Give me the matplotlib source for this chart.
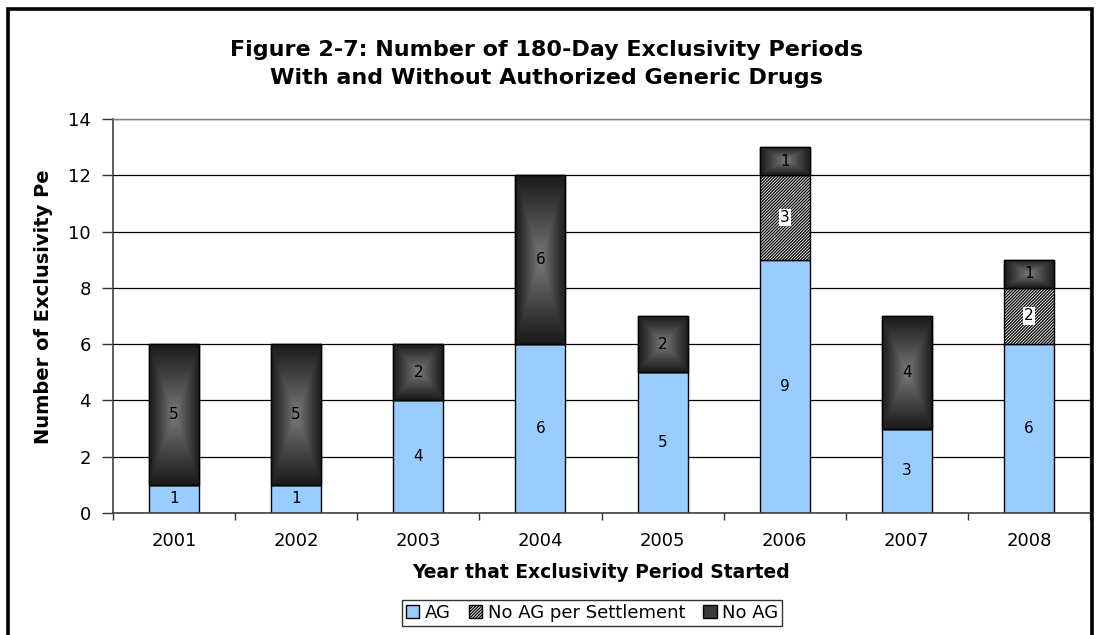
"""Stacked bars: 180-day exclusivity periods with and without authorized generics."""

import numpy as np
import matplotlib

matplotlib.use("Agg")
import matplotlib.pyplot as plt
from matplotlib.patches import Rectangle

years = ["2001", "2002", "2003", "2004", "2005", "2006", "2007", "2008"]
ag = [1, 1, 4, 6, 5, 9, 3, 6]
no_ag_settlement = [0, 0, 0, 0, 0, 3, 0, 2]
no_ag = [5, 5, 2, 6, 2, 1, 4, 1]

title = ("Figure 2-7: Number of 180-Day Exclusivity Periods\n"
         "With and Without Authorized Generic Drugs")
xlabel = "Year that Exclusivity Period Started"
ylabel = "Number of Exclusivity Pe"
legend_labels = ["AG", "No AG per Settlement", "No AG"]

plt.rcParams["font.family"] = ["DejaVu Sans"]
plt.rcParams["hatch.color"] = "#4a4a4a"
plt.rcParams["hatch.linewidth"] = 0.8

W, H = 1096, 635
fig = plt.figure(figsize=(W / 100, H / 100), dpi=100)
ax = fig.add_axes([113 / W, 1 - 513 / H, (1090 - 113) / W, (513 - 119) / H])

x = np.arange(len(years))
width = 0.41
ag_arr = np.array(ag, dtype=float)
set_arr = np.array(no_ag_settlement, dtype=float)
noag_arr = np.array(no_ag, dtype=float)

# gridlines behind the bars
ax.set_axisbelow(True)
ax.yaxis.grid(True, color="#000000", linewidth=0.9)

b_ag = ax.bar(x, ag_arr, width, color="#99ccff", edgecolor="#000000",
              linewidth=1.0, zorder=2, label=legend_labels[0])
b_set = ax.bar(x, set_arr, width, bottom=ag_arr, color="#d8d8d8",
               edgecolor="#000000", linewidth=1.0, hatch="/" * 11,
               zorder=2, label=legend_labels[1])
bottom2 = ag_arr + set_arr
b_no = ax.bar(x, noag_arr, width, bottom=bottom2, color="#3a3a3a",
              edgecolor="#000000", linewidth=1.0, zorder=2,
              label=legend_labels[2])

# "from centre" gradient fill for the No AG segments
n = 120
u = np.linspace(-1, 1, n)
uu, vv = np.meshgrid(u, u)
t = np.maximum(np.abs(uu), np.abs(vv))
shade = 0.11 + (0.48 - 0.11) * (1 - t) ** 1.1
grad = np.dstack([shade, shade, shade])
for patch in b_no.patches:
    x0, y0 = patch.get_x(), patch.get_y()
    x1, y1 = x0 + patch.get_width(), y0 + patch.get_height()
    im = ax.imshow(grad, extent=(x0, x1, y0, y1), aspect="auto",
                   interpolation="bilinear", zorder=2.1)
    im.set_clip_path(patch)
ax.bar(x, noag_arr, width, bottom=bottom2, fill=False, edgecolor="#000000",
       linewidth=1.0, zorder=2.2)

# value labels
for i in range(len(years)):
    ax.text(x[i], ag_arr[i] / 2, f"{ag[i]}", ha="center", va="center",
            fontsize=11, zorder=3)
    if set_arr[i] > 0:
        ax.text(x[i], ag_arr[i] + set_arr[i] / 2, f"{no_ag_settlement[i]}",
                ha="center", va="center", fontsize=11, zorder=3,
                bbox=dict(facecolor="white", edgecolor="none", pad=0.8))
    if noag_arr[i] > 0:
        ax.text(x[i], bottom2[i] + noag_arr[i] / 2, f"{no_ag[i]}",
                ha="center", va="center", fontsize=11, zorder=3)

ax.set_xlim(-0.5, len(years) - 0.5)
ax.set_ylim(0, 14)
ax.set_yticks(np.arange(0, 15, 2))
ax.tick_params(axis="y", direction="out", length=8, width=1.0,
               color="#333333", labelsize=13, pad=8)
ax.set_xticks(x)
ax.set_xticklabels(years)
ax.set_xticks(np.arange(-0.5, len(years), 1), minor=True)
ax.tick_params(axis="x", which="major", length=0, labelsize=13, pad=14)
ax.tick_params(axis="x", which="minor", direction="out", length=5,
               width=1.0, color="#333333")

for side in ("top", "right"):
    ax.spines[side].set_color("#808080")
    ax.spines[side].set_linewidth(1.0)
ax.spines["left"].set_color("#404040")
ax.spines["bottom"].set_color("#404040")
ax.spines["left"].set_linewidth(1.2)
ax.spines["bottom"].set_linewidth(1.2)

fig.text(546 / W, 1 - 64 / H, title, ha="center", va="center",
         fontsize=16, fontweight="bold", linespacing=1.5)
fig.text(601 / W, 1 - 572 / H, xlabel, ha="center", va="center",
         fontsize=13.5, fontweight="bold")
fig.text(44 / W, 1 - 307 / H, ylabel, ha="center", va="center",
         rotation=90, fontsize=14, fontweight="bold")

leg = fig.legend(handles=[b_ag, b_set, b_no], labels=legend_labels,
                 loc="center", bbox_to_anchor=(592 / W, 1 - 613 / H),
                 ncol=3, fontsize=13, frameon=True, fancybox=False,
                 shadow=False, handlelength=0.75, handleheight=0.75,
                 handletextpad=0.3, columnspacing=1.0, borderpad=0.2,
                 borderaxespad=0)
leg.get_frame().set_edgecolor("#000000")
leg.get_frame().set_linewidth(1.0)

# outer chart border (bottom edge falls outside the image)
fig.add_artist(Rectangle((8 / W, -0.05), (1092 - 8) / W, 1.05 - 9 / H,
                         transform=fig.transFigure, fill=False,
                         edgecolor="#000000", linewidth=2.6))

fig.savefig("out.png", dpi=100)
